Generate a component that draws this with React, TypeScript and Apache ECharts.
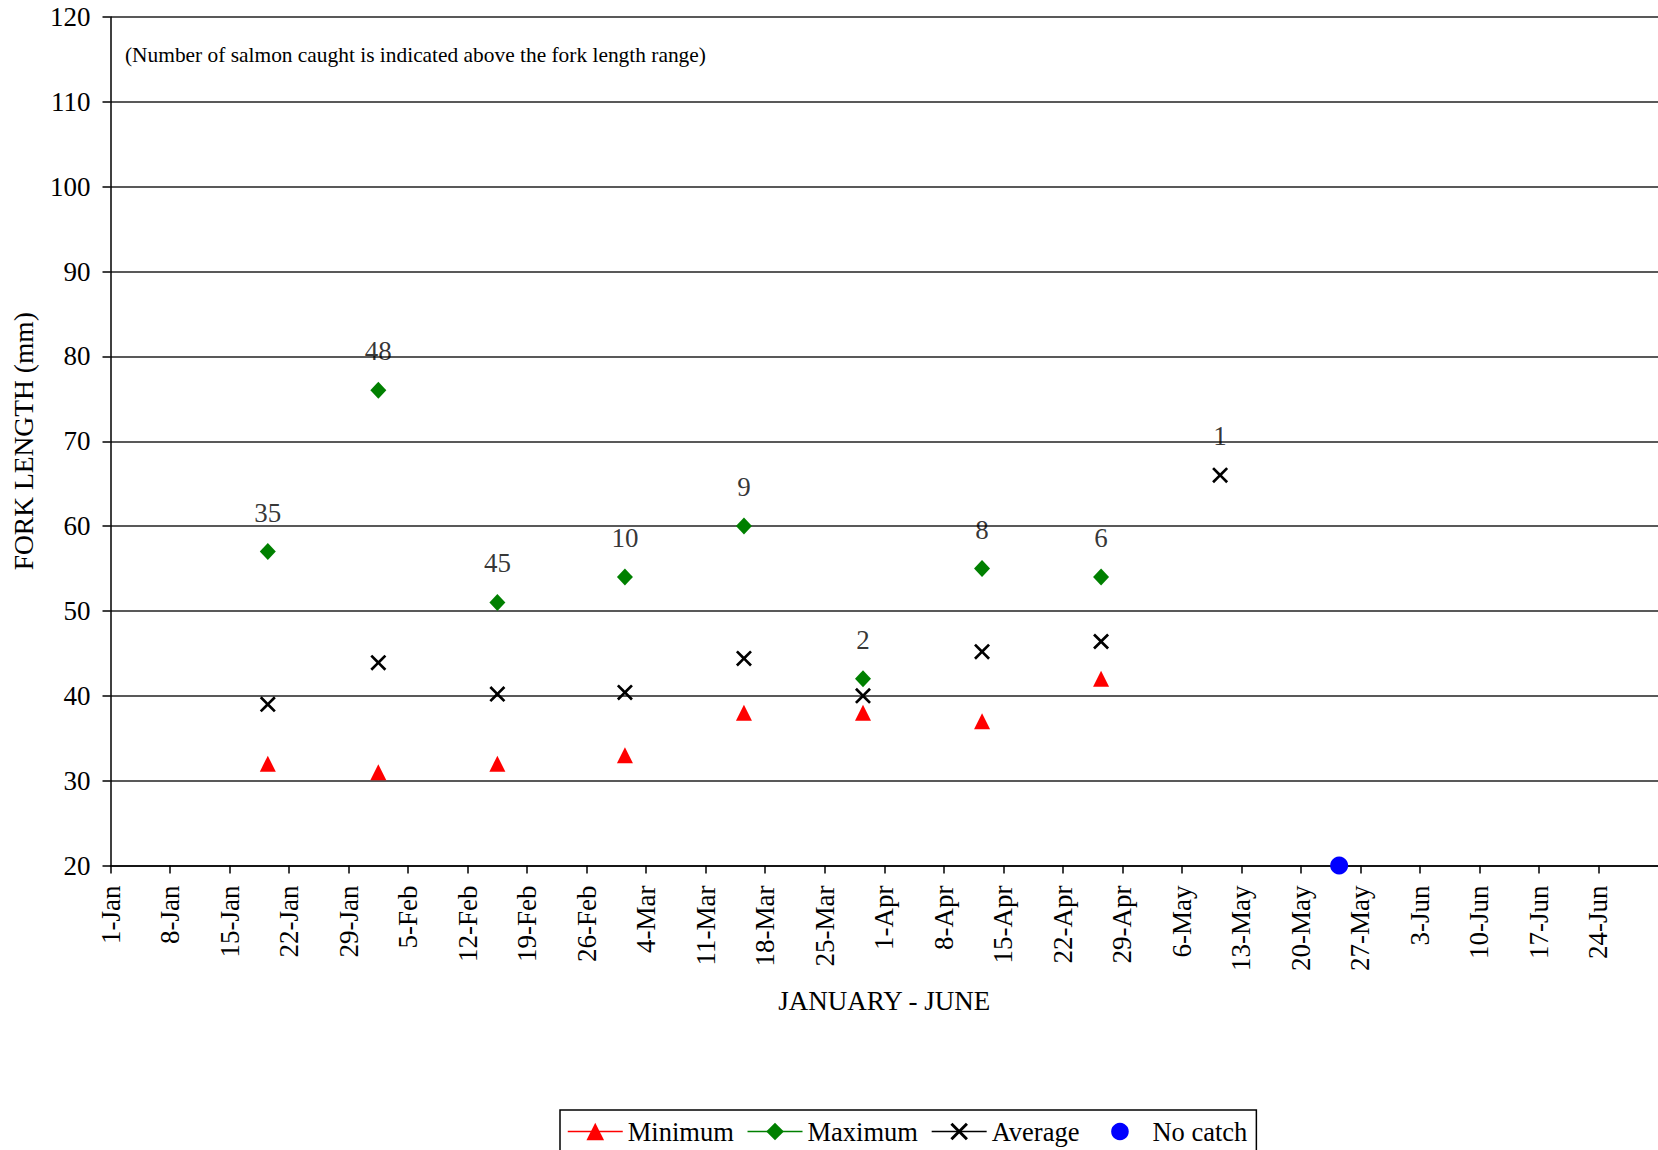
import React, { useEffect, useRef } from "react";
import * as echarts from "echarts";

const YEAR = 2008;
const MONTHS = ["Jan", "Feb", "Mar", "Apr", "May", "Jun", "Jul", "Aug", "Sep", "Oct", "Nov", "Dec"];

const sampleDates = [
  "2008-01-19",
  "2008-02-01",
  "2008-02-15",
  "2008-03-01",
  "2008-03-15",
  "2008-03-29",
  "2008-04-12",
  "2008-04-26",
  "2008-05-10",
];
const minimumLengths: (number | null)[] = [32, 31, 32, 33, 38, 38, 37, 42, null];
const maximumLengths: (number | null)[] = [57, 76, 51, 54, 60, 42, 55, 54, null];
const averageLengths: (number | null)[] = [39, 43.9, 40.2, 40.4, 44.4, 40, 45.2, 46.4, 66];
const salmonCounts = [35, 48, 45, 10, 9, 2, 8, 6, 1];

const noCatchDates = ["2008-05-24"];
const noCatchValues = [20];

const AXIS_START = "2008-01-01";
const AXIS_END = "2008-07-01";
const yTicks = { min: 20, max: 120, step: 10 };
const xTickStepDays = 7;

const FONT = "'Liberation Serif', 'Times New Roman', serif";
const FS = 27;
const LEGEND_FS = 26.5;

const DAY_MS = 86400000;
const dayOf = (iso: string) => {
  const [y, m, d] = iso.split("-").map(Number);
  return (Date.UTC(y, m - 1, d) - Date.UTC(YEAR, 0, 1)) / DAY_MS;
};
// Excel date axis centres each point in the middle of its day
const xPos = (iso: string) => dayOf(iso) + 0.5;
const dayLabel = (v: number) => {
  const d = new Date(Date.UTC(YEAR, 0, 1) + Math.round(v) * DAY_MS);
  return `${d.getUTCDate()}-${MONTHS[d.getUTCMonth()]}`;
};

const buildPoints = (dates: string[], values: (number | null)[]) =>
  dates
    .map((d, i) => [xPos(d), values[i]] as [number, number | null])
    .filter((p) => p[1] !== null && p[1] !== undefined);

const X_PATH =
  "path://M0,1.9L1.9,0L8,6.1L14.1,0L16,1.9L9.9,8L16,14.1L14.1,16L8,9.9L1.9,16L0,14.1L6.1,8Z";

export default function App() {
  const ref = useRef<HTMLDivElement>(null);

  useEffect(() => {
    document.body.style.margin = "0";
    document.body.style.overflow = "hidden";
    if (!ref.current) return;
    const chart = echarts.init(ref.current, undefined, { renderer: "svg" });

    const hiddenLine = { opacity: 0, width: 0 };

    const option: any = {
      animation: false,
      backgroundColor: "#fff",
      textStyle: { fontFamily: FONT, color: "#000" },
      grid: { left: 110.5, top: 17, width: 1549, height: 848.5, containLabel: false },
      xAxis: {
        type: "value",
        min: dayOf(AXIS_START),
        max: dayOf(AXIS_END),
        interval: xTickStepDays,
        name: "JANUARY - JUNE",
        nameLocation: "middle",
        nameGap: 122,
        nameTextStyle: { fontFamily: FONT, fontSize: FS, color: "#000" },
        axisLine: { show: true, onZero: false, lineStyle: { color: "#000", width: 1.5 } },
        axisTick: { show: true, length: 8, lineStyle: { color: "#000", width: 1.5 } },
        axisLabel: {
          rotate: 90,
          margin: 20,
          fontFamily: FONT,
          fontSize: FS,
          color: "#000",
          showMaxLabel: false,
          formatter: (v: number) => dayLabel(v),
        },
        splitLine: { show: false },
      },
      yAxis: {
        type: "value",
        min: yTicks.min,
        max: yTicks.max,
        interval: yTicks.step,
        name: "FORK LENGTH (mm)",
        nameLocation: "middle",
        nameRotate: 90,
        nameGap: 73,
        nameTextStyle: { fontFamily: FONT, fontSize: 27.5, color: "#000" },
        axisLine: { show: true, onZero: false, lineStyle: { color: "#000", width: 1.5 } },
        axisTick: { show: true, length: 8, lineStyle: { color: "#000", width: 1.5 } },
        axisLabel: { margin: 20, fontFamily: FONT, fontSize: FS, color: "#000" },
        splitLine: { show: true, lineStyle: { color: "#222", width: 1.5 } },
      },
      legend: {
        left: 560,
        top: 1110,
        orient: "horizontal",
        padding: [8, 9, 8, 7],
        itemGap: 13,
        itemWidth: 55,
        itemHeight: 22,
        borderColor: "#000",
        borderWidth: 1.5,
        selectedMode: false,
        textStyle: { fontFamily: FONT, fontSize: LEGEND_FS, color: "#000" },
        data: [
          { name: "Minimum", lineStyle: { color: "#FF0000", width: 1.5, opacity: 1 } },
          { name: "Maximum", lineStyle: { color: "#008000", width: 1.5, opacity: 1 } },
          { name: "Average", lineStyle: { color: "#000000", width: 1.5, opacity: 1 } },
          { name: "No catch", lineStyle: { opacity: 0, width: 0 } },
        ],
      },
      graphic: [
        {
          type: "text",
          left: 125,
          top: 44,
          style: {
            text: "(Number of salmon caught is indicated above the fork length range)",
            fontFamily: FONT,
            fontSize: 21.4,
            fill: "#000",
          },
        },
      ],
      series: [
        {
          name: "Minimum",
          type: "line",
          symbol: "triangle",
          symbolSize: [16, 16],
          showAllSymbol: true,
          lineStyle: hiddenLine,
          itemStyle: { color: "#FF0000" },
          silent: true,
          data: buildPoints(sampleDates, minimumLengths),
        },
        {
          name: "Maximum",
          type: "line",
          symbol: "diamond",
          symbolSize: [16, 17],
          showAllSymbol: true,
          lineStyle: hiddenLine,
          itemStyle: { color: "#008000" },
          silent: true,
          data: buildPoints(sampleDates, maximumLengths),
        },
        {
          name: "Average",
          type: "line",
          symbol: X_PATH,
          symbolSize: 16,
          showAllSymbol: true,
          lineStyle: hiddenLine,
          itemStyle: { color: "#000000" },
          silent: true,
          data: buildPoints(sampleDates, averageLengths),
        },
        {
          name: "No catch",
          type: "line",
          symbol: "circle",
          symbolSize: 18,
          showAllSymbol: true,
          lineStyle: hiddenLine,
          itemStyle: { color: "#0000FF" },
          silent: true,
          data: buildPoints(noCatchDates, noCatchValues),
        },
        {
          name: "count",
          type: "scatter",
          symbolSize: 1,
          itemStyle: { color: "transparent" },
          silent: true,
          label: {
            show: true,
            position: "top",
            distance: 25,
            fontFamily: FONT,
            fontSize: FS,
            color: "#000",
            textBorderWidth: 0,
            formatter: (p: any) => String(p.value[2]),
          },
          data: sampleDates.map((d, i) => [
            xPos(d),
            maximumLengths[i] ?? averageLengths[i],
            salmonCounts[i],
          ]),
        },
      ],
    };

    chart.setOption(option);
    return () => chart.dispose();
  }, []);

  return (
    <div
      ref={ref}
      style={{ position: "absolute", left: 0, top: 0, width: 1658, height: 1150 }}
    />
  );
}
